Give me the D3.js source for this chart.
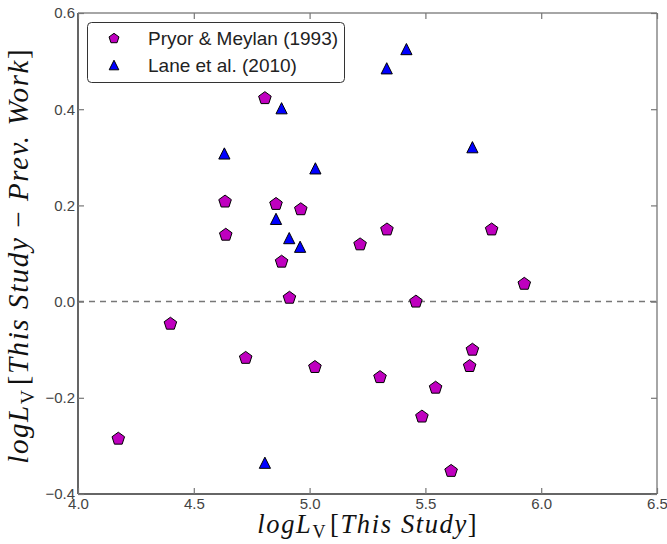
<!DOCTYPE html>
<html><head><meta charset="utf-8">
<script src="https://cdn.jsdelivr.net/npm/d3@7"></script>
<style>body{margin:0;background:#fff}svg{display:block}</style>
</head><body>
<script>
// Data
const pryorX = [4.174, 4.399, 4.635, 4.638, 4.724, 4.807, 4.855, 4.879, 4.913, 4.962, 5.023, 5.218, 5.304, 5.334, 5.459, 5.485, 5.544, 5.611, 5.691, 5.703, 5.786, 5.927];
const pryorY = [-0.284, -0.045, 0.209, 0.140, -0.116, 0.424, 0.204, 0.084, 0.009, 0.193, -0.135, 0.120, -0.156, 0.151, 0.001, -0.238, -0.178, -0.351, -0.133, -0.099, 0.151, 0.038];
const laneX = [4.632, 4.807, 4.855, 4.879, 4.912, 4.959, 5.025, 5.333, 5.418, 5.703];
const laneY = [0.308, -0.335, 0.172, 0.402, 0.132, 0.114, 0.277, 0.485, 0.525, 0.321];
const xTicks = [4.0, 4.5, 5.0, 5.5, 6.0, 6.5];
const yTicks = [-0.4, -0.2, 0.0, 0.2, 0.4, 0.6];
const seriesNames = ["Pryor & Meylan (1993)", "Lane et al. (2010)"];

const W = 667, H = 544;
const L = 78, R = 657, T = 13, B = 494;
const svg = d3.select("body").append("svg").attr("width", W).attr("height", H);
const x = d3.scaleLinear().domain([4.0, 6.5]).range([L, R]);
const y = d3.scaleLinear().domain([-0.4, 0.6]).range([B, T]);

// dashed zero line
svg.append("line").attr("x1", L).attr("x2", R).attr("y1", y(0)).attr("y2", y(0))
  .attr("stroke", "#777").attr("stroke-width", 1.5).attr("stroke-dasharray", "6,5");

// spines
const spine = svg.append("g");
spine.append("line").attr("x1", L).attr("x2", R).attr("y1", T).attr("y2", T).attr("stroke", "#888").attr("stroke-width", 1.5);
spine.append("line").attr("x1", R).attr("x2", R).attr("y1", T).attr("y2", B).attr("stroke", "#888").attr("stroke-width", 1.5);
spine.append("line").attr("x1", L).attr("x2", L).attr("y1", T).attr("y2", B).attr("stroke", "#555").attr("stroke-width", 1.8);
spine.append("line").attr("x1", L).attr("x2", R).attr("y1", B).attr("y2", B).attr("stroke", "#666").attr("stroke-width", 2);

// axes (ticks inward, labels outside)
const fmt = d => d3.format(".1f")(d).replace("-", "\u2212");
const xAxis = svg.append("g").attr("transform", `translate(0,${B})`)
  .call(d3.axisBottom(x).tickValues(xTicks).tickFormat(fmt).tickSize(-6).tickPadding(4));
const xAxisTop = svg.append("g").attr("transform", `translate(0,${T})`)
  .call(d3.axisTop(x).tickValues(xTicks).tickFormat("").tickSize(-6));
const yAxis = svg.append("g").attr("transform", `translate(${L},0)`)
  .call(d3.axisLeft(y).tickValues(yTicks).tickFormat(fmt).tickSize(-6).tickPadding(3));
const yAxisR = svg.append("g").attr("transform", `translate(${R},0)`)
  .call(d3.axisRight(y).tickValues(yTicks).tickFormat("").tickSize(-6));
[xAxis, xAxisTop, yAxis, yAxisR].forEach(g => {
  g.select(".domain").remove();
  g.selectAll(".tick line").attr("stroke", "#777").attr("stroke-width", 1.2);
  g.selectAll(".tick text").attr("fill", "#444").attr("font-family", "Liberation Sans, Arial, sans-serif").attr("font-size", 15);
});

// marker shapes
function pentPath(r) {
  const pts = d3.range(5).map(i => {
    const a = -Math.PI / 2 + i * 2 * Math.PI / 5;
    return [r * Math.cos(a), r * Math.sin(a)];
  });
  return "M" + pts.map(p => p.join(",")).join("L") + "Z";
}
function triPath(r) {
  return `M0,${-r}L${r},${r}L${-r},${r}Z`;
}

const pryor = pryorX.map((v, i) => ({x: v, y: pryorY[i]}));
const lane = laneX.map((v, i) => ({x: v, y: laneY[i]}));

svg.append("g").selectAll("path").data(pryor).join("path")
  .attr("d", pentPath(6.6))
  .attr("transform", d => `translate(${x(d.x)},${y(d.y) + 0.6})`)
  .attr("fill", "#bf00bf").attr("stroke", "#000").attr("stroke-width", 1);

svg.append("g").selectAll("path").data(lane).join("path")
  .attr("d", triPath(5.6))
  .attr("transform", d => `translate(${x(d.x)},${y(d.y)})`)
  .attr("fill", "#0000ff").attr("stroke", "#000").attr("stroke-width", 1);

// legend
const lg = svg.append("g");
lg.append("rect").attr("x", 87.5).attr("y", 22.5).attr("width", 257).attr("height", 60)
  .attr("rx", 4).attr("fill", "#fff").attr("stroke", "#333").attr("stroke-width", 1);
lg.append("path").attr("d", pentPath(5.2)).attr("transform", "translate(114,38.5)")
  .attr("fill", "#bf00bf").attr("stroke", "#000").attr("stroke-width", 1);
lg.append("path").attr("d", triPath(4.8)).attr("transform", "translate(114,65)")
  .attr("fill", "#0000ff").attr("stroke", "#000").attr("stroke-width", 1);
lg.selectAll("text").data(seriesNames).join("text")
  .attr("x", 148).attr("y", (d, i) => 38 + i * 27).attr("dy", "0.36em")
  .attr("font-family", "Liberation Sans, Arial, sans-serif").attr("font-size", 19)
  .attr("fill", "#222").text(d => d);

// axis labels (math-style italic serif), fitted to reference width
function mathLabel(g, rest, size, target) {
  const t = g.append("text").attr("font-family", "Liberation Serif, Times New Roman, serif")
    .attr("font-size", size).attr("fill", "#111").attr("text-anchor", "middle");
  t.append("tspan").attr("font-style", "italic").text("logL");
  t.append("tspan").attr("font-size", size * 0.68).attr("dy", size * 0.2).text("V");
  t.append("tspan").attr("dy", -size * 0.2).attr("dx", 3).text("[");
  t.append("tspan").attr("font-style", "italic").text(rest[0]);
  if (rest.length > 1) {
    t.append("tspan").text(" \u2212 ");
    t.append("tspan").attr("font-style", "italic").text(rest[1]);
  }
  t.append("tspan").text("]");
  const w = t.node().getComputedTextLength();
  const n = t.text().length;
  const ls = (target - w) / n;
  t.attr("letter-spacing", ls);
  t.attr("dx", ls / 2);
  return t;
}
const xl = svg.append("g").attr("transform", `translate(367,533)`);
mathLabel(xl, ["This Study"], 26.5, 218);
const yl = svg.append("g").attr("transform", `translate(28,256.5) rotate(-90)`);
mathLabel(yl, ["This Study", "Prev. Work"], 29, 413);
</script>
</body></html>
